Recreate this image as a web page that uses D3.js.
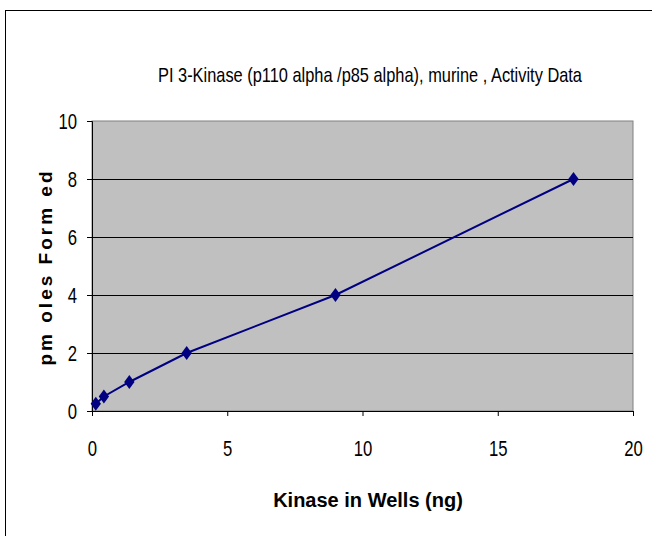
<!DOCTYPE html>
<html>
<head>
<meta charset="utf-8">
<script src="https://cdn.jsdelivr.net/npm/d3@7"></script>
<style>
  body { margin: 0; background: #fff; }
  text { font-family: "Liberation Sans", Arial, sans-serif; fill: #000; }
</style>
</head>
<body>
<svg width="652" height="536"></svg>
<script>
(function (d3) {
    'use strict';

    var kinase = [0.14, 0.44, 1.38, 3.5, 9.0, 17.8];
    var pmoles = [0.25, 0.5, 1, 2, 4, 8];
    var xTicks = [0, 5, 10, 15, 20];
    var yTicks = [0, 2, 4, 6, 8, 10];

    var svg = d3.select('svg'),
        margin = { top: 121, right: 19, bottom: 125, left: 92 },
        width = 652 - margin.left - margin.right,
        height = 536 - margin.top - margin.bottom,
        narrow = 0.82,
        tickNarrow = 0.76;

    var points = kinase.map(function (k, i) { return { x: k, y: pmoles[i] }; });

    // outer chart frame
    svg.append('rect')
        .attr('x', 5.5).attr('y', 10.5)
        .attr('width', 660).attr('height', 540)
        .attr('fill', 'none').attr('stroke', '#000').attr('stroke-width', 1);

    var x = d3.scaleLinear().domain([0, 20]).range([0, width]),
        y = d3.scaleLinear().domain([0, 10]).range([height, 0]);

    var g = svg.append('g')
        .attr('transform', 'translate(' + margin.left + ',' + margin.top + ')');

    g.append('rect')
        .attr('width', width).attr('height', height)
        .attr('fill', '#c0c0c0').attr('stroke', '#808080');

    g.selectAll('.grid')
        .data(yTicks.slice(1, -1))
        .enter().append('line')
        .attr('class', 'grid')
        .attr('x1', 0).attr('x2', width)
        .attr('y1', function (d) { return Math.round(y(d)) + 0.5; })
        .attr('y2', function (d) { return Math.round(y(d)) + 0.5; })
        .attr('stroke', '#000');

    var xAxis = g.append('g')
        .attr('transform', 'translate(0,' + height + ')')
        .call(d3.axisBottom(x).tickValues(xTicks).tickSize(5).tickPadding(24));

    var yAxis = g.append('g')
        .call(d3.axisLeft(y).tickValues(yTicks).tickSize(5).tickPadding(10));

    [xAxis, yAxis].forEach(function (a) {
        a.select('.domain').attr('stroke', '#000');
        a.selectAll('text')
            .style('font-family', '"Liberation Sans", Arial, sans-serif')
            .style('font-size', '22px')
            .attr('fill', '#000');
    });
    xAxis.selectAll('text').attr('transform', 'scale(' + tickNarrow + ',1)');
    yAxis.selectAll('text')
        .attr('x', -15 / tickNarrow)
        .attr('transform', 'scale(' + tickNarrow + ',1)');

    var line = d3.line()
        .x(function (d) { return x(d.x); })
        .y(function (d) { return y(d.y); });

    g.append('path')
        .datum(points)
        .attr('d', line)
        .attr('fill', 'none')
        .attr('stroke', '#000080')
        .attr('stroke-width', 2);

    g.selectAll('.pt')
        .data(points)
        .enter().append('path')
        .attr('class', 'pt')
        .attr('d', d3.symbol().type(d3.symbolDiamond).size(70))
        .attr('transform', function (d) {
            return 'translate(' + x(d.x) + ',' + y(d.y) + ') scale(1.15,0.9)';
        })
        .attr('fill', '#000080');

    svg.append('text')
        .attr('transform', 'translate(370,82) scale(' + narrow + ',1)')
        .attr('text-anchor', 'middle')
        .style('font-size', '20px')
        .text('PI 3-Kinase (p110 alpha /p85 alpha), murine , Activity Data');

    svg.append('text')
        .attr('x', 368).attr('y', 507)
        .attr('text-anchor', 'middle')
        .style('font-size', '20px')
        .style('font-weight', 'bold')
        .text('Kinase in Wells (ng)');

    svg.append('text')
        .attr('transform', 'translate(52,267) rotate(-90)')
        .attr('text-anchor', 'middle')
        .style('font-size', '19px')
        .style('font-weight', 'bold')
        .style('letter-spacing', '3px')
        .text('pm oles Form ed');
})(window.d3);
</script>
</body>
</html>
